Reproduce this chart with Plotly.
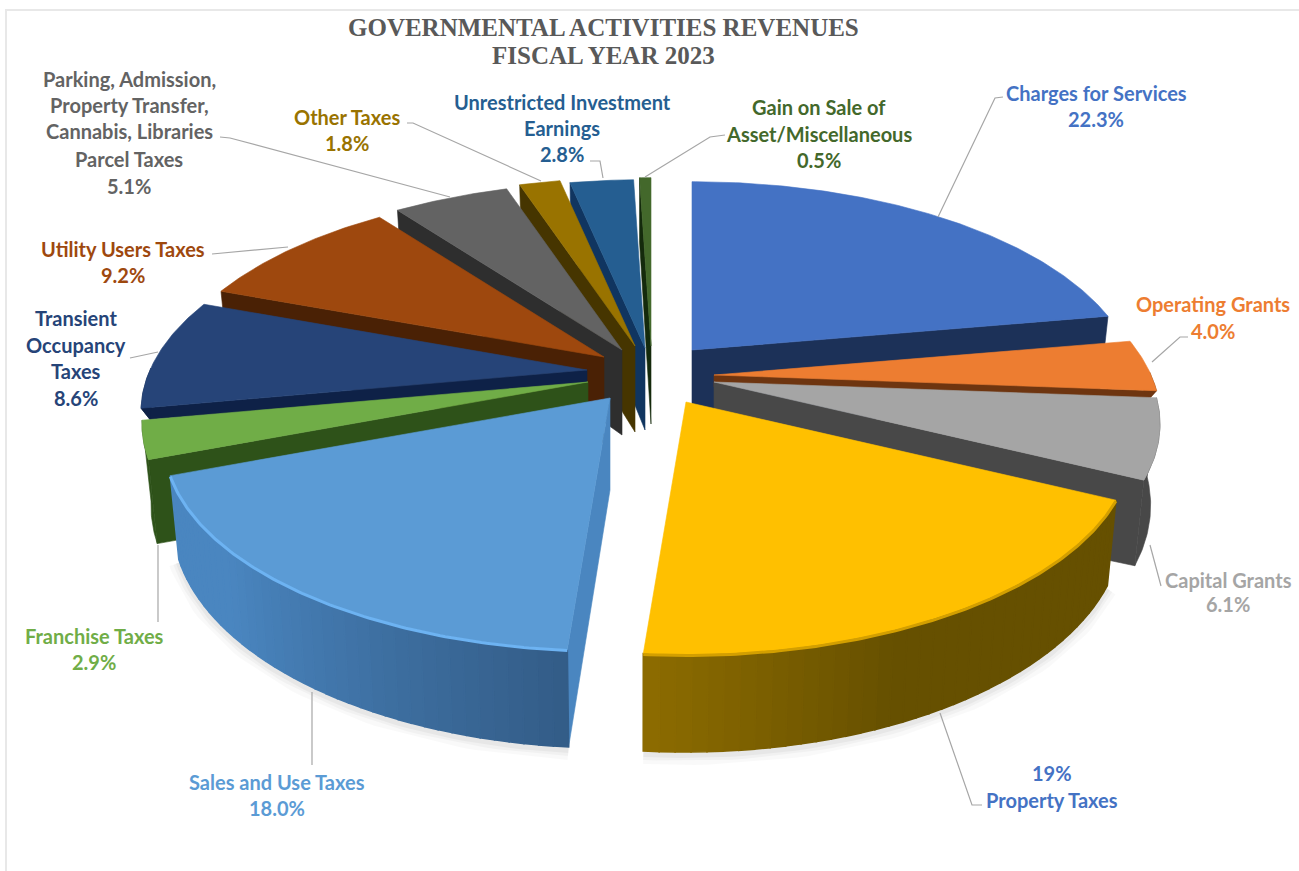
import math
import plotly.graph_objects as go

# ---------- data ----------
categories = ["Charges for Services", "Operating Grants", "Capital Grants", "Property Taxes",
              "Sales and Use Taxes", "Franchise Taxes", "Transient Occupancy Taxes",
              "Utility Users Taxes", "Parking, Admission, Property Transfer, Cannabis, Libraries Parcel Taxes",
              "Other Taxes", "Unrestricted Investment Earnings", "Gain on Sale of Asset/Miscellaneous"]
values = [22.3, 4.0, 6.1, 19.0, 18.0, 2.9, 8.6, 9.2, 5.1, 1.8, 2.8, 0.5]
title_lines = ["GOVERNMENTAL ACTIVITIES REVENUES", "FISCAL YEAR 2023"]
label_lines = [
    ["Charges for Services", "22.3%"], ["Operating Grants", "4.0%"], ["Capital Grants", "6.1%"],
    ["19%", "Property Taxes"], ["Sales and Use Taxes", "18.0%"], ["Franchise Taxes", "2.9%"],
    ["Transient", "Occupancy", "Taxes", "8.6%"], ["Utility Users Taxes", "9.2%"],
    ["Parking, Admission,", "Property Transfer,", "Cannabis, Libraries", "Parcel Taxes", "5.1%"],
    ["Other Taxes", "1.8%"], ["Unrestricted Investment", "Earnings", "2.8%"],
    ["Gain on Sale of", "Asset/Miscellaneous", "0.5%"],
]

# ---------- perspective projection of the exploded pie ----------
PIE_RX = 437        # horizontal radius at mid depth
PIE_RY = 202        # vertical radius at mid depth
PERSPECTIVE = 0.2   # how much the back shrinks and the front grows
CONVERGE = 0.018    # the bottom of the pie is narrower than its top
VANISH_X = 640
apex_x = [692, 714, 714, 686, 610, 588, 587, 604, 622, 635, 645, 651]
apex_y = [350, 375, 382, 402, 398, 382, 370, 357, 350, 346, 348, 346]
apex_depth = [90, 12, 95, 95, 92, 85, 14, 86, 85, 86, 82, 78]
rim_depth = [78, 10, 78, 78, 78, 78, 11, 78, 78, 78, 78, 78]
draw_order = [0, 11, 10, 9, 8, 7, 6, 1, 2, 5, 3, 4]

# ---------- styles ----------
top_colors = ["#4472C4", "#ED7D31", "#A5A5A5", "#FFC000", "#5B9BD5", "#70AD47",
              "#264478", "#9E480E", "#636363", "#997300", "#255E91", "#43682B"]
side_colors = ["#1C3158", "#6E3510", "#484848", "#665000", "#4A86C0", "#2E5219",
               "#0E2147", "#4A2105", "#2E2E2E", "#463500", "#103560", "#142A0C"]
wall_dark = {3: "#665000", 4: "#335C87"}
wall_light = {3: "#8D6C00", 4: "#4A86C0"}
text_colors = ["#4472C4", "#ED7D31", "#A5A5A5", "#4472C4", "#5B9BD5", "#70AD47",
               "#264478", "#9E480E", "#636363", "#997300", "#255E91", "#43682B"]
label_x = [1096, 1213, 1228, 1052, 277, 94, 76, 123, 129, 347, 562, 819]
label_y = [[93, 119], [304, 331], [580, 604], [773, 800], [782, 808], [636, 662],
           [318, 345, 371, 398], [249, 275], [79, 105, 131, 159, 186], [117, 143],
           [102, 128, 154], [107, 134, 160]]
leaders = [
    [(1003, 97), (995, 98), (938, 217)], [(1188, 337), (1180, 337), (1152, 362)],
    [(1150, 545), (1161, 586)], [(940, 713), (972, 805), (982, 805)], [(312, 692), (312, 765)],
    [(158, 545), (158, 622)], [(130, 358), (158, 352)], [(212, 254), (288, 247)],
    [(220, 137), (230, 138), (450, 197)], [(407, 123), (413, 123), (541, 181)],
    [(590, 161), (600, 161), (603, 178)], [(725, 135), (710, 137), (645, 177)],
]


def hex_mix(a, b, t):
    ca = [int(a[i:i + 2], 16) for i in (1, 3, 5)]
    cb = [int(b[i:i + 2], 16) for i in (1, 3, 5)]
    return "#%02x%02x%02x" % tuple(round(p + (q - p) * t) for p, q in zip(ca, cb))


def scale_at(theta):
    return 1.0 / (1.0 + PERSPECTIVE * math.cos(theta))


def rim(i, theta):
    k = scale_at(theta)
    return apex_x[i] + PIE_RX * math.sin(theta) * k, apex_y[i] - PIE_RY * math.cos(theta) * k


def lower(i, theta):
    x, y = rim(i, theta)
    return x - CONVERGE * (x - VANISH_X), y + rim_depth[i] * scale_at(theta)


def add_poly(fig, pts, color, name, width=0.6):
    fig.add_trace(go.Scatter(x=[p[0] for p in pts] + [pts[0][0]], y=[p[1] for p in pts] + [pts[0][1]],
                             mode="lines", fill="toself", fillcolor=color,
                             line=dict(color=color, width=width), name=name, hoverinfo="name",
                             showlegend=False))


fig = go.Figure()

# frame of the original picture
fig.add_trace(go.Scatter(x=[6, 6, 1299], y=[871, 10, 10], mode="lines", hoverinfo="skip", showlegend=False,
                         line=dict(color="#E8E8E8", width=2)))

total = sum(values)
starts, acc = [], 0.0
for v in values:
    starts.append(acc / total * 2 * math.pi)
    acc += v

# soft shadow under the front slices
for i in (3, 4):
    a0 = starts[i]
    a1 = a0 + values[i] / total * 2 * math.pi
    thetas = [a0 + (a1 - a0) * k / 50 for k in range(51)]
    pts = [lower(i, t) for t in thetas]
    for width, alpha in ((20, 0.025), (12, 0.03), (6, 0.04)):
        fig.add_trace(go.Scatter(x=[p[0] for p in pts], y=[p[1] + 3 for p in pts], mode="lines",
                                 hoverinfo="skip", showlegend=False,
                                 line=dict(color="rgba(0,0,0,%.3f)" % alpha, width=width)))

for i in draw_order:
    a0 = starts[i]
    a1 = a0 + values[i] / total * 2 * math.pi
    A = (apex_x[i], apex_y[i])
    n = max(6, int((a1 - a0) / 0.01))
    thetas = [a0 + (a1 - a0) * k / n for k in range(n + 1)]
    arc = [rim(i, t) for t in thetas]
    Q = rim(i, (a0 + a1) / 2)
    name = categories[i]

    # cut faces that look towards the viewer
    for t, P in ((a0, arc[0]), (a1, arc[-1])):
        ux, uy = P[0] - A[0], P[1] - A[1]
        cross_down = ux
        cross_q = ux * (Q[1] - A[1]) - uy * (Q[0] - A[0])
        if cross_down * cross_q < 0:
            add_poly(fig, [A, P, lower(i, t), (A[0], A[1] + apex_depth[i])], side_colors[i], name)

    # outer wall, nearest part of the rim only
    wall_t = [t for t in thetas if math.cos(t) < 0.02]
    if len(wall_t) >= 2:
        if i in wall_dark:
            segs = 40
            for k in range(segs):
                t0 = wall_t[0] + (wall_t[-1] - wall_t[0]) * k / segs
                t1 = wall_t[0] + (wall_t[-1] - wall_t[0]) * (k + 1) / segs
                ts = [t0 + (t1 - t0) * j / 4 for j in range(5)]
                pts = [rim(i, t) for t in ts]
                bottom = [lower(i, t) for t in reversed(ts)]
                u = (k + 0.5) / segs
                if i == 3:
                    u = max(0.0, (u - 0.6) / 0.4)
                else:
                    u = min(1.0, u / 0.7)
                col = hex_mix(wall_dark[i], wall_light[i], u)
                add_poly(fig, pts + bottom, col, name, width=1.6)
        else:
            pts = [rim(i, t) for t in wall_t]
            bottom = [lower(i, t) for t in reversed(wall_t)]
            add_poly(fig, pts + bottom, side_colors[i], name)

    # top face
    add_poly(fig, [A] + arc, top_colors[i], name)

    # bevel highlight
    if i in (3, 4):
        band = [(p[0], p[1] + 1) for p in arc]
        fig.add_trace(go.Scatter(x=[p[0] for p in band], y=[p[1] for p in band], mode="lines",
                                 hoverinfo="skip", showlegend=False,
                                 line=dict(color="#6DB3F2" if i == 4 else "#D39F00", width=3)))

# leader lines
for pts in leaders:
    fig.add_trace(go.Scatter(x=[p[0] for p in pts], y=[p[1] for p in pts], mode="lines", hoverinfo="skip",
                             showlegend=False, line=dict(color="#A6A6A6", width=1.2)))

annotations = []
for text, y in zip(title_lines, (27, 55)):
    annotations.append(dict(x=603, y=y, text="<b>%s</b>" % text, showarrow=False, xref="x", yref="y",
                            font=dict(family="Liberation Serif", size=25, color="#595959")))
for i, lines in enumerate(label_lines):
    for text, y in zip(lines, label_y[i]):
        annotations.append(dict(x=label_x[i], y=y, text="<b>%s</b>" % text, showarrow=False, xref="x", yref="y",
                                font=dict(family="Lato", size=20, color=text_colors[i])))

fig.update_layout(
    width=1299, height=871, margin=dict(l=0, r=0, t=0, b=0),
    paper_bgcolor="white", plot_bgcolor="white", showlegend=False, annotations=annotations,
    xaxis=dict(range=[0, 1299], visible=False, fixedrange=True),
    yaxis=dict(range=[871, 0], visible=False, fixedrange=True),
)
fig.write_html("out.html", config={"displayModeBar": False},
               post_script="document.body.style.margin='0';document.body.style.overflow='hidden';")
